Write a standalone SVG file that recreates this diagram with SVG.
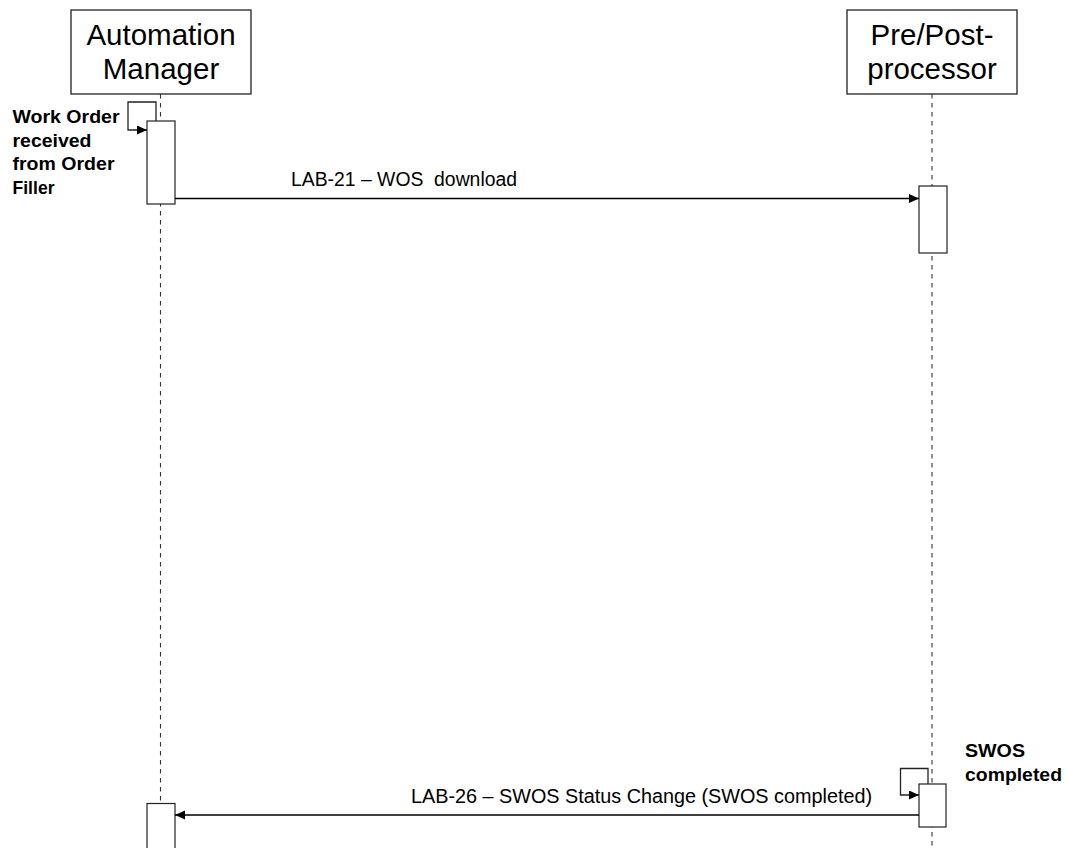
<svg xmlns="http://www.w3.org/2000/svg" width="1068" height="848" viewBox="0 0 1068 848">
<defs>
<marker id="ah" markerUnits="userSpaceOnUse" markerWidth="11" markerHeight="10" refX="10" refY="4.5" orient="auto">
<path d="M0,0 L10,4.5 L0,9 z" fill="#000"/>
</marker>
<style>
.box{fill:#fff;stroke:#222;stroke-width:1.3}
.act{fill:#fff;stroke:#222;stroke-width:1.2}
.life{stroke:#333;stroke-width:1.1;stroke-dasharray:4.5,4.5;fill:none}
.msg{stroke:#000;stroke-width:1.5;fill:none}
.loop{stroke:#222;stroke-width:1.3;fill:none}
.hd{font-family:"Liberation Sans",Arial,sans-serif;font-size:29.5px;fill:#000;text-anchor:middle}
.ml{font-family:"Liberation Sans",Arial,sans-serif;font-size:19.5px;fill:#000}
.nt{font-family:"Liberation Sans",Arial,sans-serif;font-size:17.5px;font-weight:bold;fill:#000}
</style>
</defs>
<rect width="1068" height="848" fill="#fff"/>
<g id="lifelines">
<line class="life" x1="160.5" y1="94" x2="160.5" y2="848"/>
<line class="life" x1="932" y1="94" x2="932" y2="848"/>
</g>
<g id="automation-manager">
<rect class="box" x="71" y="10" width="180" height="84"/>
<text class="hd" x="161" y="45">Automation</text>
<text class="hd" x="161" y="79">Manager</text>
</g>
<g id="pre-post-processor">
<rect class="box" x="847" y="10" width="170" height="84"/>
<text class="hd" x="932" y="45">Pre/Post-</text>
<text class="hd" x="932" y="79">processor</text>
</g>
<g id="activations">
<rect class="act" x="147" y="121" width="28" height="83"/>
<rect class="act" x="919" y="186" width="28" height="67"/>
<rect class="act" x="919" y="784" width="27" height="43"/>
<rect class="act" x="147" y="803.5" width="28" height="60"/>
</g>
<g id="connectors">
<path class="loop" d="M156,121 V102 H128 V130 H147" marker-end="url(#ah)"/>
<line class="msg" x1="175" y1="198.5" x2="919" y2="198.5" marker-end="url(#ah)"/>
<path class="loop" d="M928,784 V768.5 H900.5 V795 H919" marker-end="url(#ah)"/>
<line class="msg" x1="919" y1="815" x2="175" y2="815" marker-end="url(#ah)"/>
</g>
<g id="labels">
<text class="ml" x="291" y="185.5" textLength="226" lengthAdjust="spacingAndGlyphs">LAB-21 – WOS&#160; download</text>
<text class="ml" x="411" y="802.5" textLength="461" lengthAdjust="spacingAndGlyphs">LAB-26 – SWOS Status Change (SWOS completed)</text>
</g>
<g id="notes">
<text class="nt" x="12.5" y="122.5" textLength="107" lengthAdjust="spacingAndGlyphs">Work Order</text>
<text class="nt" x="12.5" y="146.5" textLength="79" lengthAdjust="spacingAndGlyphs">received</text>
<text class="nt" x="12.5" y="170" textLength="102" lengthAdjust="spacingAndGlyphs">from Order</text>
<text class="nt" x="12.5" y="194" textLength="42" lengthAdjust="spacingAndGlyphs">Filler</text>
<text class="nt" x="965" y="757" textLength="60" lengthAdjust="spacingAndGlyphs">SWOS</text>
<text class="nt" x="965" y="780.5" textLength="97" lengthAdjust="spacingAndGlyphs">completed</text>
</g>
</svg>
